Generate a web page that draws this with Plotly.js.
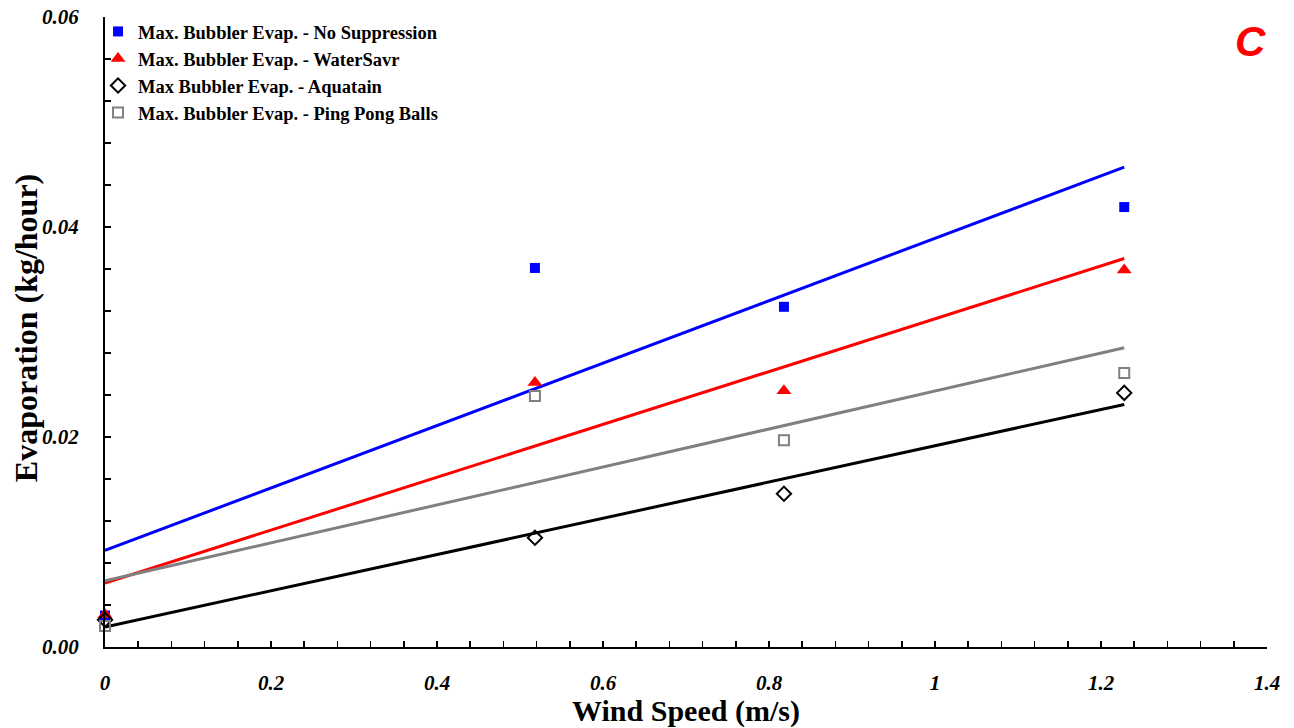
<!DOCTYPE html>
<html>
<head>
<meta charset="utf-8">
<script src="https://cdn.plot.ly/plotly-3.0.1.min.js"></script>
<style>html,body{margin:0;padding:0;background:#fff;}#chart{width:1294px;height:728px;}</style>
</head>
<body>
<div id="chart"></div>
<script>
// Wind speed (m/s) of the measurement points
const windSpeed = [0, 0.518, 0.818, 1.228];

// Evaporation (kg/hour)
const noSuppression = [0.0030, 0.0361, 0.0324, 0.0419];
const waterSavr     = [0.0031, 0.0252, 0.0244, 0.0359];
const aquatain      = [0.0026, 0.0104, 0.0146, 0.0242];
const pingPong      = [0.0020, 0.0239, 0.0197, 0.0261];

// Trend line endpoints
const trendX = [0, 1.228];
const trendNoSuppression = [0.0092, 0.0457];
const trendWaterSavr     = [0.0061, 0.0370];
const trendAquatain      = [0.0019, 0.0231];
const trendPingPong      = [0.0063, 0.0285];

const seriesNames = [
  'Max. Bubbler Evap. - No Suppression',
  'Max. Bubbler Evap. - WaterSavr',
  'Max Bubbler Evap. - Aquatain',
  'Max. Bubbler Evap. - Ping Pong Balls'
];
const xTitle = 'Wind Speed (m/s)';
const yTitle = 'Evaporation (kg/hour)';
const panelLabel = 'C';

const serif = 'Liberation Serif, Times New Roman, serif';

function line(y, color) {
  return {x: trendX, y: y, mode: 'lines', type: 'scatter', showlegend: false,
          hoverinfo: 'skip', line: {color: color, width: 3}, cliponaxis: false};
}

const traces = [
  line(trendNoSuppression, '#0000ff'),
  line(trendWaterSavr, '#ff0000'),
  line(trendAquatain, '#000000'),
  line(trendPingPong, '#808080'),
  {x: windSpeed, y: noSuppression, name: seriesNames[0], mode: 'markers', type: 'scatter', cliponaxis: false,
   marker: {symbol: 'square', size: 10, color: '#0000ff'}},
  {x: windSpeed, y: waterSavr, name: seriesNames[1], mode: 'markers', type: 'scatter', cliponaxis: false,
   marker: {symbol: 'triangle-up', size: 13, color: '#ff0000'}},
  {x: windSpeed, y: aquatain, name: seriesNames[2], mode: 'markers', type: 'scatter', cliponaxis: false,
   marker: {symbol: 'diamond-open', size: 11, color: '#000000', line: {width: 2}}},
  {x: windSpeed, y: pingPong, name: seriesNames[3], mode: 'markers', type: 'scatter', cliponaxis: false,
   marker: {symbol: 'square-open', size: 10, color: '#808080', line: {width: 2}}}
];

const layout = {
  width: 1294, height: 728,
  margin: {l: 105, r: 27, t: 17, b: 81, autoexpand: false},
  paper_bgcolor: '#fff', plot_bgcolor: '#fff',
  showlegend: true,
  legend: {x: -0.006, y: 1.0065, xanchor: 'left', yanchor: 'top', bgcolor: 'rgba(0,0,0,0)',
           font: {family: serif, size: 18.5, color: '#000', weight: 'bold'}, tracegroupgap: 0,
           itemwidth: 20},
  xaxis: {
    range: [0, 1.4], dtick: 0.2, tick0: 0, automargin: false,
    showgrid: false, zeroline: false, showline: true, linecolor: '#000', linewidth: 2,
    ticks: 'inside', ticklen: 6, tickwidth: 1.5, tickcolor: '#000',
    minor: {dtick: 0.04, ticks: 'inside', ticklen: 6, tickwidth: 1.5, tickcolor: '#000', showgrid: false},
    tickfont: {family: serif, size: 21, color: '#000', weight: 'bold', style: 'italic'},
    ticklabelstandoff: 16,
    title: {text: xTitle, font: {family: serif, size: 30, color: '#000', weight: 'bold'}, standoff: 6}
  },
  yaxis: {
    range: [0, 0.06], dtick: 0.02, tick0: 0, tickformat: '.2f', automargin: false,
    showgrid: false, zeroline: false, showline: true, linecolor: '#000', linewidth: 2,
    ticks: 'inside', ticklen: 6, tickwidth: 1.5, tickcolor: '#000',
    minor: {dtick: 0.004, ticks: 'inside', ticklen: 6, tickwidth: 1.5, tickcolor: '#000', showgrid: false},
    tickfont: {family: serif, size: 21, color: '#000', weight: 'bold', style: 'italic'},
    ticklabelstandoff: 20
  },
  annotations: [
    {xref: 'paper', yref: 'paper', x: -0.068, y: 0.506, xanchor: 'center', yanchor: 'middle',
     showarrow: false, textangle: -90, text: yTitle,
     font: {family: serif, size: 32, color: '#000', weight: 'bold'}},
    {xref: 'paper', yref: 'paper', x: 0.9854, y: 0.961, xanchor: 'center', yanchor: 'middle', showarrow: false,
     text: panelLabel, font: {family: 'Liberation Sans, Arial, sans-serif', size: 42, color: '#ff0000', weight: 'bold', style: 'italic'}}
  ]
};

Plotly.newPlot('chart', traces, layout, {displayModeBar: false, staticPlot: true});
</script>
</body>
</html>
